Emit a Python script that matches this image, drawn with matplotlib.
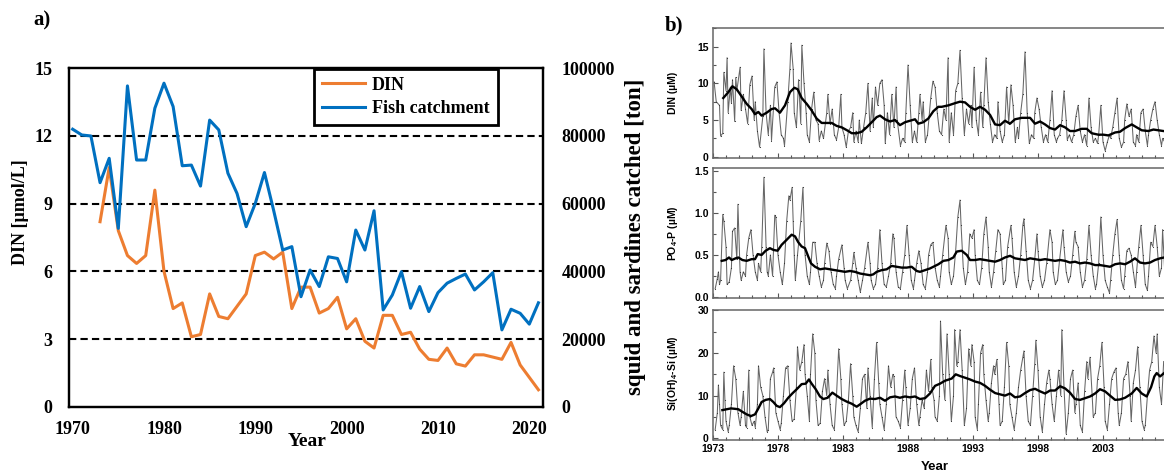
import matplotlib
matplotlib.use("Agg")
import matplotlib.pyplot as plt
from matplotlib.ticker import FixedLocator, MultipleLocator, FormatStrFormatter
import numpy as np

plt.rcParams["mathtext.fontset"] = "custom"
plt.rcParams["mathtext.rm"] = "Liberation Sans:bold"
plt.rcParams["mathtext.it"] = "Liberation Sans:bold"
plt.rcParams["mathtext.bf"] = "Liberation Sans:bold"

SERIF = "Liberation Serif"
SANS = "Liberation Sans"

# ---- a) yearly DIN and catch of squid + sardines
din_years = np.arange(1973, 2022)
din_mean = [8.2, 10.6, 7.8, 6.7, 6.35, 6.7, 9.6, 6.0, 4.35, 4.6,
            3.1, 3.2, 5.0, 4.0, 3.9, 4.45, 5.0, 6.7, 6.85, 6.55,
            6.85, 4.35, 5.3, 5.3, 4.15, 4.35, 4.85, 3.45, 3.9, 2.9,
            2.6, 4.05, 4.05, 3.2, 3.3, 2.55, 2.1, 2.05, 2.6, 1.9,
            1.8, 2.3, 2.3, 2.2, 2.1, 2.85, 1.85, 1.3, 0.75]

fish_years = np.arange(1970, 2022)
fish_catch = [82000, 80300, 80000, 66200, 73400, 52700, 94800, 72900, 72900, 88200,
              95600, 88700, 71200, 71400, 65200, 84700, 81800, 69000, 63000, 53200,
              60100, 69200, 58100, 46300, 47300, 32500, 40400, 35500, 44300, 43800,
              36900, 52200, 46300, 57900, 28600, 33000, 39900, 29100, 35500, 28100,
              33700, 36500, 37900, 39200, 34500, 36900, 39600, 22700, 28800, 27600,
              24400, 30700]

# ---- b) monthly station data, (months since Jan 1973, value)
din_raw = [(1, 10.2), (3, 7.5), (6, 7), (7, 2.8), (9, 3.2), (10, 11.5), (12, 9), (13, 13.5), (14, 6),
           (16, 9.5), (17, 7.3), (18, 10.5), (20, 4.8), (21, 10.8), (22, 9), (25, 12.2), (26, 6.3),
           (28, 8.5), (30, 6.5), (32, 4.5), (34, 9.8), (36, 11), (38, 5), (39, 7.5), (41, 3.5),
           (43, 1.3), (46, 5.5), (47, 14.7), (49, 6), (51, 3), (53, 7), (54, 2.2), (57, 9.5),
           (59, 10.2), (61, 6), (63, 3), (65, 2.5), (66, 1.5), (69, 7.5), (71, 12), (72, 15.5),
           (74, 12), (75, 6), (77, 4), (79, 10.5), (81, 4.5), (82, 15.2), (84, 10), (86, 6), (87, 3),
           (89, 2), (91, 6.5), (93, 8.8), (95, 5), (97, 4.5), (98, 2.2), (100, 3.5), (102, 2.5),
           (105, 6), (106, 8.5), (108, 4.5), (110, 6.5), (112, 3), (114, 2.3), (116, 4), (118, 8.5),
           (119, 4), (121, 3), (123, 1.3), (125, 3.5), (127, 4), (129, 6), (130, 2), (132, 3.5),
           (134, 2), (135, 5), (137, 1.8), (139, 4), (141, 6), (143, 10), (145, 3.5), (147, 8),
           (148, 4), (150, 9.5), (152, 7), (154, 10), (156, 10.5), (158, 7), (159, 1.8), (161, 6),
           (163, 3), (165, 8.5), (167, 4), (169, 9.5), (170, 5), (173, 1.5), (175, 2.5), (177, 2),
           (178, 6), (180, 12.5), (182, 7), (184, 2), (186, 3.5), (188, 2), (190, 6), (191, 8.5),
           (193, 5), (194, 7.5), (196, 2), (198, 3), (201, 8), (203, 10.3),
           (205, 9.5), (207, 6), (209, 3.5), (211, 3), (213, 6.5), (215, 5), (217, 13.5), (218, 2),
           (220, 6), (222, 3), (224, 9), (226, 10), (228, 14.5), (230, 8), (232, 3), (234, 6.5),
           (236, 4.5), (238, 7), (239, 4), (241, 12.2), (243, 5), (245, 3), (247, 8.8), (249, 4),
           (250, 7), (252, 13.5), (254, 7.5), (256, 4.5), (258, 2), (260, 3), (262, 2.5), (263, 7.5),
           (265, 3.5), (267, 2), (269, 3), (271, 9.5), (273, 4.5), (275, 9.8), (277, 7), (279, 2),
           (281, 4), (282, 2.5), (284, 6), (286, 8.5), (288, 14.3), (290, 6), (292, 1.8), (294, 3),
           (296, 2.5), (297, 6), (299, 8), (301, 6.5), (303, 4), (305, 2), (307, 3), (309, 2),
           (311, 5), (313, 9), (315, 3), (317, 2), (318, 2.5), (320, 3), (322, 5), (324, 9), (326, 5),
           (327, 2.3), (329, 3), (331, 2), (333, 3), (335, 5.5), (337, 7), (339, 3.5), (341, 2),
           (343, 3), (345, 1.5), (347, 8), (349, 4), (351, 2), (353, 2.5), (355, 1.8), (356, 3),
           (358, 7), (360, 2), (362, 0.8), (364, 2), (366, 3), (367, 2.5), (369, 4), (371, 6),
           (373, 8), (375, 2.5), (377, 1.3), (379, 2), (380, 5), (382, 7.2), (384, 5.5), (386, 6.5),
           (388, 2), (390, 1.5), (391, 3), (393, 2), (395, 6), (397, 6.5), (399, 3.5), (401, 1.5),
           (402, 3), (404, 5), (406, 6.5), (408, 7.5), (410, 5), (412, 3), (414, 1.5), (415, 2.5),
           (417, 2)]

po4_raw = [(2, 0.1), (4, 0.22), (5, 0.3), (6, 0.15), (7, 0.2), (9, 0.98), (10, 0.9), (12, 0.6),
           (13, 0.15), (15, 0.18), (17, 0.35), (18, 0.78), (20, 0.82), (22, 0.45), (23, 1.1),
           (25, 0.3), (26, 0.2), (28, 0.3), (30, 0.25), (31, 0.5), (33, 0.7), (35, 0.8), (37, 0.5),
           (39, 0.3), (41, 0.2), (42, 0.4), (44, 0.3), (45, 0.6), (47, 1.42), (49, 0.6), (50, 0.3),
           (51, 0.25), (53, 0.5), (55, 0.25), (57, 0.97), (58, 0.95), (60, 0.5), (62, 0.3),
           (64, 0.15), (66, 0.4), (68, 0.9), (70, 1.2), (71, 1.15), (73, 1.3), (74, 0.9), (75, 0.5),
           (76, 0.2), (78, 0.5), (81, 0.9), (83, 1.3), (85, 0.5), (87, 0.25), (89, 0.15), (90, 0.3),
           (92, 0.65), (94, 0.65), (96, 0.4), (98, 0.25), (100, 0.12), (102, 0.2), (103, 0.4),
           (105, 0.64), (107, 0.55), (109, 0.3), (111, 0.15), (113, 0.1), (114, 0.25), (116, 0.45),
           (119, 0.62), (121, 0.35), (122, 0.2), (124, 0.1), (127, 0.2), (129, 0.4), (130, 0.53),
           (132, 0.35), (134, 0.2), (136, 0.06), (138, 0.2), (140, 0.35), (143, 0.65), (145, 0.4),
           (146, 0.2), (148, 0.1), (150, 0.15), (152, 0.35), (154, 0.8), (156, 0.4), (158, 0.15),
           (160, 0.12), (162, 0.25), (164, 0.4), (166, 0.75), (167, 0.7), (169, 0.3), (171, 0.12),
           (173, 0.1), (175, 0.3), (177, 0.5), (179, 0.85), (181, 0.5), (183, 0.2), (185, 0.1),
           (186, 0.2), (188, 0.4), (190, 0.55), (192, 0.4), (194, 0.15), (196, 0.1), (198, 0.3),
           (199, 0.5), (201, 0.62), (203, 0.65),
           (205, 0.35), (207, 0.2), (209, 0.12), (210, 0.25), (212, 0.5), (215, 0.85), (217, 0.7),
           (218, 0.3), (220, 0.15), (222, 0.25), (224, 0.55), (226, 0.95), (228, 1.15), (229, 0.85),
           (231, 0.35), (233, 0.15), (235, 0.3), (237, 0.75), (239, 0.7), (241, 0.8), (242, 0.5),
           (244, 0.2), (246, 0.15), (248, 0.35), (250, 0.75), (252, 0.95), (254, 0.6), (255, 0.3),
           (257, 0.12), (259, 0.3), (261, 0.55), (263, 0.8), (265, 0.75), (267, 0.35), (268, 0.15),
           (270, 0.2), (272, 0.6), (275, 0.85), (276, 0.7), (278, 0.3), (280, 0.12), (282, 0.25),
           (284, 0.5), (286, 0.85), (287, 0.93), (289, 0.55), (291, 0.2), (293, 0.1), (295, 0.2),
           (297, 0.45), (299, 0.75), (300, 0.55), (302, 0.25), (304, 0.12), (306, 0.2), (308, 0.4),
           (311, 0.8), (313, 0.65), (314, 0.3), (316, 0.15), (318, 0.2), (320, 0.45), (323, 0.8),
           (324, 0.6), (326, 0.3), (328, 0.18), (330, 0.25), (332, 0.5), (334, 0.78), (335, 0.65),
           (337, 0.6), (339, 0.3), (341, 0.12), (343, 0.2), (345, 0.45), (347, 0.85), (349, 0.5),
           (351, 0.25), (353, 0.1), (354, 0.15), (356, 0.4), (358, 0.95), (360, 0.5), (362, 0.2),
           (364, 0.12), (366, 0.05), (367, 0.2), (369, 0.5), (371, 0.75), (373, 0.92), (375, 0.5),
           (377, 0.2), (379, 0.1), (380, 0.25), (382, 0.55), (384, 0.58), (386, 0.5), (388, 0.3),
           (390, 0.12), (391, 0.3), (393, 0.6), (395, 0.85), (397, 0.5), (399, 0.15), (401, 0.08),
           (402, 0.25), (404, 0.65), (406, 0.6), (408, 0.85), (410, 0.6), (412, 0.25), (414, 0.35),
           (415, 0.8), (417, 0.3)]

si_raw = [(2, 2), (4, 6), (5, 12.5), (6, 8), (7, 3), (9, 2), (10, 15.5), (11, 9), (12, 4), (14, 1.5),
          (15, 3), (17, 8), (19, 17), (21, 14), (23, 6), (25, 3), (26, 5), (28, 11), (30, 3),
          (31, 2.5), (33, 16), (34, 5), (36, 3), (38, 4), (39, 2.5), (41, 8), (42, 17), (44, 12),
          (46, 10), (48, 5), (50, 1.5), (51, 2), (53, 14), (55, 15.5), (56, 16.5), (58, 6), (60, 4),
          (62, 2), (63, 3.5), (65, 10), (67, 16.5), (69, 17), (71, 9), (73, 4), (75, 4.5), (77, 12),
          (78, 21.5), (80, 16), (82, 18), (84, 22), (85, 15), (87, 10), (89, 4), (90, 15),
          (92, 24.5), (94, 20), (95, 9), (97, 3), (99, 3.5), (101, 11), (103, 14), (105, 10),
          (106, 16), (108, 8), (110, 3), (112, 2), (114, 10), (116, 21), (118, 14), (119, 8),
          (121, 3), (123, 4), (125, 9), (127, 17.5), (129, 10), (130, 5), (132, 3), (134, 1.5),
          (136, 7), (138, 14), (140, 15), (142, 7), (143, 16.5), (145, 10), (147, 2.5), (149, 14),
          (151, 22.5), (153, 13), (154, 8), (156, 5), (158, 2), (160, 8), (162, 17), (164, 12),
          (166, 15), (167, 14.5), (169, 5), (171, 4), (173, 2.5), (175, 9), (177, 16), (178, 12),
          (180, 3), (182, 7), (184, 14), (186, 16.5), (188, 8), (190, 3), (191, 5), (193, 9),
          (195, 7), (197, 16), (199, 11), (201, 18.5), (202, 12), (204, 9),
          (205, 5), (207, 4), (209, 10), (210, 27.5), (212, 15), (214, 9), (216, 24.5), (218, 15),
          (220, 4), (222, 10), (223, 25.5), (225, 17), (226, 18), (228, 25.5), (230, 16), (232, 3),
          (234, 7), (236, 21), (238, 17), (239, 22), (241, 18), (242, 5), (244, 2), (245, 8),
          (247, 20), (249, 22), (250, 15), (252, 9), (254, 4), (255, 6), (257, 13), (259, 17),
          (260, 15), (262, 18.5), (264, 8), (265, 3), (267, 4), (269, 12), (271, 22.5), (273, 17),
          (274, 8), (276, 5), (278, 2), (280, 6), (282, 12), (284, 16), (286, 19), (287, 20.5),
          (289, 10), (291, 4), (293, 3), (295, 10), (297, 17.5), (298, 23), (300, 16), (302, 5),
          (304, 1.5), (306, 8), (308, 13), (310, 16), (311, 14), (313, 8), (315, 4), (317, 10),
          (319, 16), (321, 10), (322, 25.5), (324, 12), (326, 1), (328, 6), (330, 14), (332, 16),
          (334, 6), (335, 8), (337, 13), (339, 3), (341, 1.5), (343, 11), (345, 18), (346, 14),
          (348, 19), (350, 10), (351, 5), (353, 6), (355, 14), (357, 17), (359, 22.5), (361, 12),
          (362, 4), (364, 2), (366, 8), (368, 14), (370, 15.5), (372, 16.5), (374, 6), (375, 3),
          (377, 6), (379, 14), (381, 15), (383, 18), (385, 10), (386, 4), (388, 13), (390, 16),
          (392, 21.5), (394, 12), (396, 4), (398, 2), (399, 3), (401, 10), (403, 16), (405, 18),
          (407, 24), (409, 20), (410, 24.5), (412, 12), (414, 8), (416, 18)]

# 12-month running means, (decimal year, value)
din_smooth = [(1973.79, 8.0), (1974.18, 8.8), (1974.49, 9.6), (1974.82, 9.2), (1975.21, 8.2),
              (1975.59, 7.2), (1975.97, 6.5), (1976.23, 5.8), (1976.49, 6.1), (1976.74, 5.6),
              (1977.13, 6.0), (1977.51, 6.5), (1977.77, 6.6), (1978.15, 6.0), (1978.54, 7.0),
              (1978.92, 8.8), (1979.26, 9.4), (1979.51, 9.2), (1979.82, 8.0), (1980.21, 7.2),
              (1980.59, 6.3), (1980.97, 5.2), (1981.36, 4.6), (1981.74, 4.6), (1982.13, 4.6),
              (1982.51, 4.2), (1982.90, 4.0), (1983.41, 3.5), (1983.67, 3.2), (1984.05, 3.2),
              (1984.44, 3.4), (1984.82, 4.0), (1985.21, 4.7), (1985.59, 5.4), (1985.85, 5.6),
              (1986.23, 5.1), (1986.62, 4.8), (1987.00, 5.0), (1987.38, 4.3), (1987.77, 4.7),
              (1988.15, 4.9), (1988.54, 5.1), (1988.79, 4.5), (1989.18, 4.7), (1989.56, 5.2),
              (1989.95, 6.2), (1990.33, 6.8), (1990.59, 6.8), (1991.11, 7.0), (1991.62, 7.3),
              (1992.00, 7.5), (1992.39, 7.4), (1992.77, 6.8), (1993.16, 6.4), (1993.54, 6.8),
              (1993.93, 6.4), (1994.31, 5.7), (1994.70, 4.4), (1995.08, 4.3), (1995.46, 4.9),
              (1995.85, 4.5), (1996.23, 5.1), (1996.75, 5.3), (1997.39, 5.3), (1997.77, 4.5),
              (1998.16, 4.8), (1998.54, 4.4), (1998.93, 3.9), (1999.31, 3.7), (1999.70, 4.3),
              (2000.08, 4.0), (2000.46, 3.5), (2000.85, 3.5), (2001.36, 3.8), (2001.75, 3.8),
              (2002.13, 3.2), (2002.64, 3.0), (2003.03, 3.0), (2003.41, 2.9), (2003.93, 3.3),
              (2004.31, 3.4), (2004.70, 3.9), (2005.21, 4.4), (2005.59, 4.0), (2005.98, 3.6),
              (2006.49, 3.5), (2006.88, 3.7), (2007.26, 3.6), (2007.64, 3.5)]

po4_smooth = [(1973.67, 0.43), (1973.97, 0.44), (1974.23, 0.47), (1974.44, 0.44), (1974.74, 0.46),
              (1974.95, 0.47), (1975.26, 0.44), (1975.59, 0.43), (1975.97, 0.45), (1976.23, 0.45),
              (1976.44, 0.51), (1976.74, 0.50), (1977.05, 0.55), (1977.38, 0.58), (1977.64, 0.56),
              (1977.97, 0.55), (1978.28, 0.62), (1978.67, 0.68), (1979.05, 0.74), (1979.31, 0.72),
              (1979.56, 0.65), (1979.82, 0.60), (1980.08, 0.58), (1980.33, 0.48), (1980.54, 0.40),
              (1980.85, 0.36), (1981.23, 0.33), (1981.62, 0.34), (1982.00, 0.33), (1982.38, 0.32),
              (1982.77, 0.31), (1983.15, 0.30), (1983.54, 0.31), (1983.92, 0.30), (1984.31, 0.28),
              (1984.69, 0.27), (1985.08, 0.26), (1985.33, 0.27), (1985.59, 0.30), (1985.97, 0.32),
              (1986.36, 0.33), (1986.74, 0.37), (1987.13, 0.36), (1987.51, 0.35), (1987.90, 0.35),
              (1988.28, 0.36), (1988.67, 0.31), (1988.92, 0.30), (1989.31, 0.32), (1989.69, 0.34),
              (1990.08, 0.37), (1990.34, 0.39), (1990.72, 0.43), (1991.11, 0.44), (1991.49, 0.47),
              (1991.75, 0.54), (1992.13, 0.55), (1992.52, 0.50), (1992.77, 0.44), (1993.16, 0.44),
              (1993.54, 0.45), (1993.93, 0.44), (1994.31, 0.43), (1994.70, 0.42), (1995.08, 0.44),
              (1995.46, 0.47), (1995.85, 0.49), (1996.23, 0.46), (1996.62, 0.45), (1997.00, 0.44),
              (1997.39, 0.46), (1997.77, 0.45), (1998.16, 0.44), (1998.54, 0.45), (1998.93, 0.44),
              (1999.31, 0.43), (1999.70, 0.44), (2000.08, 0.43), (2000.46, 0.41), (2000.85, 0.42),
              (2001.23, 0.40), (2001.62, 0.41), (2002.00, 0.40), (2002.39, 0.38), (2002.77, 0.38),
              (2003.16, 0.37), (2003.54, 0.36), (2003.93, 0.39), (2004.31, 0.40), (2004.70, 0.39),
              (2005.08, 0.42), (2005.46, 0.46), (2005.85, 0.41), (2006.23, 0.40), (2006.62, 0.41),
              (2007.00, 0.44), (2007.39, 0.46), (2007.70, 0.47)]

si_smooth = [(1973.72, 6.6), (1974.05, 6.8), (1974.38, 7.0), (1974.69, 6.9), (1974.95, 6.8),
             (1975.26, 6.2), (1975.59, 5.6), (1975.92, 5.2), (1976.23, 5.6), (1976.49, 7.0),
             (1976.74, 8.5), (1977.05, 9.0), (1977.38, 9.2), (1977.64, 8.5), (1977.90, 7.6),
             (1978.15, 7.3), (1978.46, 8.2), (1978.79, 9.5), (1979.10, 10.5), (1979.44, 11.5),
             (1979.82, 12.7), (1980.13, 12.8), (1980.38, 13.8), (1980.59, 12.8), (1980.90, 11.5),
             (1981.23, 9.8), (1981.49, 9.2), (1981.82, 9.5), (1982.18, 10.7), (1982.51, 10.0),
             (1982.90, 9.2), (1983.28, 8.6), (1983.67, 8.1), (1984.05, 7.4), (1984.38, 8.1),
             (1984.69, 8.8), (1985.08, 9.3), (1985.46, 9.2), (1985.85, 9.5), (1986.23, 8.8),
             (1986.62, 9.6), (1987.00, 9.8), (1987.38, 9.5), (1987.77, 9.8), (1988.15, 9.6),
             (1988.54, 9.8), (1988.92, 9.2), (1989.31, 9.4), (1989.69, 10.5), (1990.08, 12.3),
             (1990.46, 12.8), (1990.85, 13.5), (1991.36, 14.0), (1991.67, 15.0), (1992.00, 14.6),
             (1992.39, 14.2), (1992.77, 13.8), (1993.16, 13.3), (1993.54, 13.0), (1993.93, 12.3),
             (1994.31, 11.4), (1994.70, 10.6), (1995.08, 10.3), (1995.46, 10.0), (1995.85, 10.5),
             (1996.23, 9.6), (1996.62, 9.8), (1997.00, 10.6), (1997.39, 11.3), (1997.77, 11.6),
             (1998.16, 11.0), (1998.54, 10.5), (1998.93, 11.2), (1999.31, 11.2), (1999.70, 12.2),
             (2000.08, 11.7), (2000.46, 10.7), (2000.85, 9.2), (2001.23, 9.0), (2001.62, 9.4),
             (2002.00, 9.8), (2002.39, 10.5), (2002.77, 11.5), (2003.16, 11.0), (2003.54, 10.0),
             (2003.93, 9.0), (2004.31, 9.1), (2004.70, 9.5), (2005.21, 10.5), (2005.59, 11.8),
             (2005.98, 10.5), (2006.36, 9.8), (2006.70, 12.0), (2006.95, 14.5), (2007.13, 15.3),
             (2007.39, 14.5), (2007.70, 15.3)]

W, H = 1164, 474
fig = plt.figure(figsize=(W / 100, H / 100), dpi=100)

# ---------------- panel a ----------------
ax = fig.add_axes([69 / W, 1 - 406.7 / H, 474 / W, 338.4 / H])
ax2 = ax.twinx()

for y in [3, 6, 9, 12]:
    ax.axhline(y, color="black", lw=1.5, ls=(0, (3.5, 2)), zorder=1)

l_din, = ax.plot(din_years, din_mean, color="#ED7D31", lw=2.2, zorder=3)
l_fish, = ax2.plot(fish_years, fish_catch, color="#0070C0", lw=2.2, zorder=3)

ax.set_xlim(1969.6, 2021.5)
ax.set_ylim(0, 15)
ax2.set_ylim(0, 100000)
ax.set_xticks(range(1970, 2021, 10))
ax.set_yticks([0, 3, 6, 9, 12, 15])
ax2.set_yticks(range(0, 100001, 20000))
ax2.set_yticklabels([str(v) for v in range(0, 100001, 20000)])

ax.tick_params(axis="x", length=0, pad=10, labelsize=13)
ax.tick_params(axis="y", length=0, pad=12, labelsize=13)
ax2.tick_params(axis="y", length=0, pad=13.5, labelsize=13)
for lab in ax.get_xticklabels() + ax.get_yticklabels() + ax2.get_yticklabels():
    lab.set_fontfamily(SERIF)
    lab.set_fontweight("bold")

for a in (ax, ax2):
    for s in a.spines.values():
        s.set_linewidth(1.6)
        s.set_color("black")

leg = ax2.legend([l_din, l_fish], ["DIN", "Fish catchment"], loc="upper left",
                 bbox_to_anchor=(314 / W, 1 - 68.5 / H), bbox_transform=fig.transFigure,
                 borderaxespad=0, fancybox=False, framealpha=1, edgecolor="black",
                 handlelength=2.4, handletextpad=0.35, borderpad=0.45, labelspacing=0.35,
                 prop={"family": SERIF, "weight": "bold", "size": 13})
leg.get_frame().set_linewidth(2)

fig.text(21 / W, 1 - 212 / H, "DIN [µmol/L]", rotation=90, ha="center", va="center",
         family=SERIF, weight="bold", size=13)
fig.text(636 / W, 1 - 237 / H, "squid and sardines catched [ton]", rotation=90,
         ha="center", va="center", family=SERIF, weight="bold", size=16.5)
fig.text(307 / W, 1 - 442 / H, "Year", ha="center", va="center",
         family=SERIF, weight="bold", size=14)
fig.text(42 / W, 1 - 20 / H, "a)", ha="center", va="center",
         family=SERIF, weight="bold", size=15)

# ---------------- panel b ----------------
b_left = 713 / W
b_width = (2010 - 1973) * 13 / W
panels = [
    (28, 158, din_raw, din_smooth, (-0.18, 17.55), [0, 5, 10, 15], 2.5, "%d", "DIN (µM)", 93),
    (168, 298, po4_raw, po4_smooth, (-0.01, 1.53), [0, 0.5, 1.0, 1.5], 0.25, "%.1f",
     "PO$_4$-P (µM)", 233),
    (310, 439.5, si_raw, si_smooth, (-0.3, 30.1), [0, 10, 20, 30], 5, "%d",
     "Si(OH)$_4$-Si (µM)", 373),
]

for i, (top, bot, raw, smooth, ylim, yt, ymin, fmt, ylab, ylab_y) in enumerate(panels):
    bx = fig.add_axes([b_left, 1 - bot / H, b_width, (bot - top) / H])
    m, v = zip(*raw)
    t = 1973 + np.array(m) / 12.0
    bx.plot(t, v, color="#666666", lw=0.75, marker=".", ms=1.6, mfc="#333333", mec="none")
    st, sv = zip(*smooth)
    bx.plot(st, sv, color="black", lw=1.7)

    bx.set_xlim(1973, 2010)
    bx.set_ylim(*ylim)
    bx.xaxis.set_major_locator(FixedLocator(range(1973, 2005, 5)))
    bx.xaxis.set_minor_locator(MultipleLocator(1))
    bx.yaxis.set_major_locator(FixedLocator(yt))
    bx.yaxis.set_minor_locator(MultipleLocator(ymin))
    bx.yaxis.set_major_formatter(FormatStrFormatter(fmt))
    bx.tick_params(which="both", direction="in", color="#555555", width=0.8,
                   labelsize=7.5, pad=3)
    bx.tick_params(which="major", length=3.5)
    bx.tick_params(which="minor", length=2.5)
    if i < 2:
        bx.tick_params(axis="x", labelbottom=False)
    for lab in bx.get_xticklabels() + bx.get_yticklabels():
        lab.set_fontfamily(SANS)
        lab.set_fontweight("bold")
    for s in bx.spines.values():
        s.set_color("#666666")
        s.set_linewidth(1.1)

    fig.text(673 / W, 1 - ylab_y / H, ylab, rotation=90, ha="center", va="center",
             family=SANS, weight="bold", size=7.5)

fig.text(935 / W, 1 - 467 / H, "Year", ha="center", va="center",
         family=SANS, weight="bold", size=9.5)
fig.text(674 / W, 1 - 25 / H, "b)", ha="center", va="center",
         family=SERIF, weight="bold", size=15)

fig.savefig("out.png", dpi=100)
